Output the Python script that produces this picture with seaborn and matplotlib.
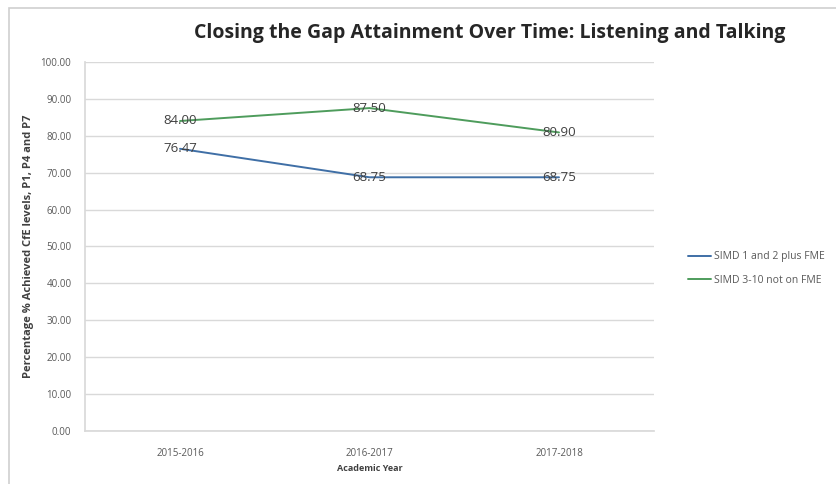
import matplotlib
matplotlib.use("Agg")
import matplotlib.pyplot as plt
import seaborn as sns
import pandas as pd
from matplotlib.patches import Rectangle

# Academic years and attainment percentages
years = ["2015-2016", "2016-2017", "2017-2018"]
simd_1_2_fme = [76.47, 68.75, 68.75]
simd_3_10_not_fme = [84.00, 87.50, 80.90]
series_names = ["SIMD 1 and 2 plus FME", "SIMD 3-10 not on FME"]
y_ticks = [0, 10, 20, 30, 40, 50, 60, 70, 80, 90, 100]

df = pd.DataFrame({
    "Academic Year": years * 2,
    "Percentage": simd_1_2_fme + simd_3_10_not_fme,
    "Series": [series_names[0]] * len(years) + [series_names[1]] * len(years),
})

sns.set_theme(style="white")
plt.rcParams["font.family"] = ["Open Sans", "DejaVu Sans"]

fig = plt.figure(figsize=(8.36, 4.84), dpi=100)
ax = fig.add_axes([0.102, 0.1095, 0.680, 0.7625])

palette = {series_names[0]: "#3f6fa6", series_names[1]: "#4e9c5c"}
sns.lineplot(data=df, x="Academic Year", y="Percentage", hue="Series",
             palette=palette, linewidth=1.4, ax=ax, sort=False)

# value labels centred on each point
for vals in (simd_1_2_fme, simd_3_10_not_fme):
    for i, v in enumerate(vals):
        ax.text(i, v, f"{v:.2f}", ha="center", va="center",
                fontsize=9.5, color="#404040")

ax.set_xlim(-0.5, len(years) - 0.5)
ax.set_ylim(0, 100)
ax.set_yticks(y_ticks)
ax.set_yticklabels([f"{t:.2f}" for t in y_ticks])
ax.tick_params(axis="both", labelsize=7, colors="#595959", length=0)
ax.tick_params(axis="x", pad=12)
ax.tick_params(axis="y", pad=10)
ax.yaxis.grid(True, color="#d9d9d9", linewidth=1)
ax.xaxis.grid(False)
for side in ("top", "right"):
    ax.spines[side].set_visible(False)
ax.spines["left"].set_color("#d9d9d9")
ax.spines["bottom"].set_color("#d9d9d9")

ax.set_xlabel("Academic Year", fontsize=6.5, fontweight="bold", color="#404040", labelpad=4)
ax.set_ylabel("Percentage % Achieved CfE levels, P1, P4 and P7", fontsize=8,
              fontweight="bold", color="#404040", labelpad=5)

handles, labels = ax.get_legend_handles_labels()
ax.legend(handles, labels, loc="center left", bbox_to_anchor=(0.812, 0.445),
          bbox_transform=fig.transFigure, frameon=False, fontsize=7.5,
          handlelength=2.2, handletextpad=0.3, labelspacing=1.2,
          labelcolor="#595959")

fig.text(0.586, 0.932, "Closing the Gap Attainment Over Time: Listening and Talking",
         ha="center", va="center", fontsize=14, fontweight="bold", color="#262626")

# outer chart border (left and top edges)
fig.patches.append(Rectangle((0.011, -0.05), 1.2, 1.034, transform=fig.transFigure,
                             fill=False, edgecolor="#cfcfcf", linewidth=1.2))

fig.savefig("out.png", dpi=100, facecolor="white")
